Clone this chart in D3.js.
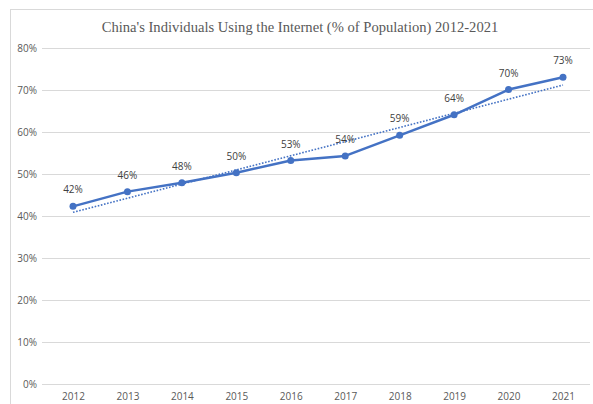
<!DOCTYPE html>
<html><head><meta charset="utf-8">
<script src="https://cdn.jsdelivr.net/npm/d3@7"></script>
<style>body{margin:0;background:#fff}svg{display:block}</style>
</head><body><svg id="c" width="593" height="404"></svg>
<script>
const title = "China's Individuals Using the Internet (% of Population) 2012-2021";
const years = ["2012","2013","2014","2015","2016","2017","2018","2019","2020","2021"];
const values = [42.3, 45.8, 47.9, 50.3, 53.2, 54.3, 59.2, 64.1, 70.1, 73.05];
const yTicks = [0, 10, 20, 30, 40, 50, 60, 70, 80];

const svg = d3.select("#c");
const x = d3.scalePoint().domain(years).range([73, 563]);
const y = d3.scaleLinear().domain([0, 80]).range([384, 48]);

// chart border
svg.append("rect").attr("x", 10.5).attr("y", 9.5).attr("width", 600).attr("height", 420)
  .attr("fill", "none").attr("stroke", "#d9d9d9").attr("stroke-width", 1);

// title
svg.append("text").attr("x", 300).attr("y", 32).attr("text-anchor", "middle")
  .attr("font-family", "Liberation Serif, Times New Roman, serif").attr("font-size", 14.6)
  .attr("fill", "#595959").text(title);

// y axis gridlines
const yAxis = d3.axisLeft(y).tickValues(yTicks).tickSize(-(590 - 42)).tickFormat(d => d + "%").tickPadding(5);
const gy = svg.append("g").attr("transform", "translate(42,0)").call(yAxis);
gy.select(".domain").remove();
gy.selectAll(".tick line").attr("stroke", "#d9d9d9").attr("stroke-width", 1);
gy.selectAll(".tick text").attr("fill", "#595959").attr("font-size", 10)
  .attr("font-family", "Open Sans, Liberation Sans, sans-serif");

// x axis
const xAxis = d3.axisBottom(x).tickSize(0).tickPadding(9);
const gx = svg.append("g").attr("transform", "translate(0,384)").call(xAxis);
gx.select(".domain").remove();
gx.selectAll(".tick text").attr("fill", "#595959").attr("font-size", 10)
  .attr("font-family", "Open Sans, Liberation Sans, sans-serif");

// linear trendline (least squares on the data)
const n = values.length;
const xi = d3.range(n);
const mx = d3.mean(xi), my = d3.mean(values);
const slope = d3.sum(xi, i => (i - mx) * (values[i] - my)) / d3.sum(xi, i => (i - mx) ** 2);
const icpt = my - slope * mx;
svg.append("line")
  .attr("x1", x(years[0])).attr("y1", y(icpt))
  .attr("x2", x(years[n - 1])).attr("y2", y(icpt + slope * (n - 1)))
  .attr("stroke", "#4472C4").attr("stroke-width", 1.6).attr("stroke-dasharray", "1.6 1.6");

// line
const line = d3.line().x((d, i) => x(years[i])).y(d => y(d));
svg.append("path").datum(values).attr("d", line).attr("fill", "none")
  .attr("stroke", "#4472C4").attr("stroke-width", 2.5).attr("stroke-linejoin", "round");

svg.selectAll("circle.pt").data(values).join("circle").attr("class", "pt")
  .attr("cx", (d, i) => x(years[i])).attr("cy", d => y(d)).attr("r", 3.5).attr("fill", "#4472C4");

svg.selectAll("text.lbl").data(values).join("text").attr("class", "lbl")
  .attr("x", (d, i) => x(years[i])).attr("y", d => y(d) - 13)
  .attr("text-anchor", "middle").attr("font-size", 10).attr("fill", "#404040")
  .attr("font-family", "Open Sans, Liberation Sans, sans-serif")
  .text(d => Math.round(d) + "%");
</script></body></html>
